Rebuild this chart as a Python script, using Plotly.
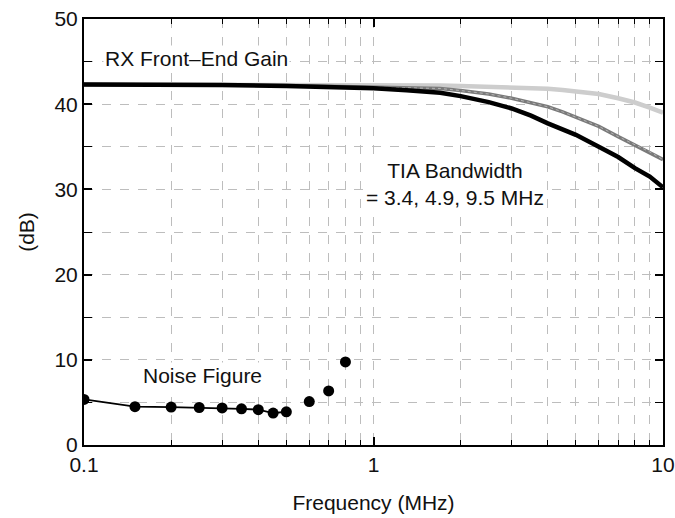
import plotly.graph_objects as go

# Gain curves
freq_gain = [0.1, 0.2, 0.3, 0.5, 0.7, 1.0, 1.3, 1.7, 2.0, 2.5, 3.0, 3.5, 4.0, 4.5, 5.0, 6.0, 7.0, 8.0, 9.0, 10.0]
gain_bw34 = [42.3, 42.3, 42.25, 42.15, 42.05, 41.88, 41.65, 41.35, 40.95, 40.25, 39.5, 38.65, 37.75, 37.05, 36.4, 35.0, 33.8, 32.5, 31.5, 30.25]
gain_bw49 = [42.3, 42.3, 42.25, 42.2, 42.12, 42.05, 41.95, 41.85, 41.6, 41.2, 40.7, 40.2, 39.7, 39.1, 38.5, 37.4, 36.2, 35.2, 34.4, 33.5]
gain_bw95 = [42.3, 42.3, 42.3, 42.3, 42.28, 42.25, 42.22, 42.2, 42.15, 42.08, 42.0, 41.9, 41.8, 41.68, 41.55, 41.2, 40.7, 40.2, 39.6, 39.0]

# Noise figure
nf_freq_line = [0.1, 0.15, 0.2, 0.25, 0.3, 0.35, 0.4, 0.45, 0.5]
nf_line = [5.35, 4.5, 4.45, 4.4, 4.35, 4.25, 4.15, 3.75, 3.9]
nf_freq_pts = [0.6, 0.7, 0.8]
nf_pts = [5.1, 6.35, 9.75]

font = "Liberation Sans, Arial, sans-serif"

fig = go.Figure()
fig.add_trace(go.Scatter(x=freq_gain, y=gain_bw95, mode="lines",
                         line=dict(color="#cdcdcd", width=4.5)))
fig.add_trace(go.Scatter(x=freq_gain, y=gain_bw49, mode="lines",
                         line=dict(color="#7a7a7a", width=3.5)))
fig.add_trace(go.Scatter(x=freq_gain, y=gain_bw49, mode="lines",
                         line=dict(color="#b5b5b5", width=1, dash="dot")))
fig.add_trace(go.Scatter(x=freq_gain, y=gain_bw34, mode="lines",
                         line=dict(color="#000000", width=4.5)))
fig.add_trace(go.Scatter(x=nf_freq_line, y=nf_line, mode="lines+markers",
                         line=dict(color="#000000", width=1.8),
                         marker=dict(color="#000000", size=11)))
fig.add_trace(go.Scatter(x=nf_freq_pts, y=nf_pts, mode="markers",
                         marker=dict(color="#000000", size=11)))

axis_common = dict(
    showline=True, linecolor="#000000", linewidth=2, mirror="allticks",
    ticks="inside", tickcolor="#000000", tickwidth=1.5, ticklen=8,
    showgrid=True, gridcolor="#bdbdbd", griddash="dash", gridwidth=1,
    zeroline=False, automargin=False,
    tickfont=dict(family=font, size=21, color="#111111"),
)

fig.update_xaxes(type="log", range=[-1, 1], tickvals=[0.1, 1, 10], ticktext=["0.1", "1", "10"],
                 minor=dict(ticks="inside", ticklen=5, tickcolor="#000000", tickwidth=1.2,
                            showgrid=True, gridcolor="#bdbdbd", griddash="dash", gridwidth=1,
                            tickvals=[0.2, 0.3, 0.4, 0.5, 0.6, 0.7, 0.8, 0.9, 2, 3, 4, 5, 6, 7, 8, 9]),
                 title=dict(text="Frequency (MHz)", font=dict(family=font, size=21, color="#111111"), standoff=20),
                 **axis_common)
fig.update_yaxes(range=[0, 50], tickvals=[0, 10, 20, 30, 40, 50],
                 minor=dict(ticks="inside", ticklen=8, tickcolor="#000000", tickwidth=1.2,
                            showgrid=True, gridcolor="#bdbdbd", griddash="dash", gridwidth=1,
                            tickvals=[5, 15, 25, 35, 45]),
                 title=dict(text="(dB)", font=dict(family=font, size=21, color="#111111"), standoff=14),
                 **axis_common)

ann_font = dict(family=font, size=21, color="#111111")
fig.add_annotation(x=-0.934, y=45.4, xref="x", yref="y", text="RX Front–End Gain", showarrow=False,
                   xanchor="left", yanchor="middle", bgcolor="#ffffff", font=ann_font)
fig.add_annotation(x=0.283, y=30.6, xref="x", yref="y",
                   text="TIA Bandwidth<br>= 3.4, 4.9, 9.5 MHz", showarrow=False,
                   xanchor="center", yanchor="middle", bgcolor="#ffffff", font=ann_font, align="center")
fig.add_annotation(x=-0.803, y=8.2, xref="x", yref="y", text="Noise Figure", showarrow=False,
                   xanchor="left", yanchor="middle", bgcolor="#ffffff", font=ann_font)

fig.update_layout(
    width=675, height=518,
    margin=dict(l=84, r=12, t=19, b=73),
    paper_bgcolor="#ffffff", plot_bgcolor="#ffffff",
    showlegend=False,
)

fig.write_html("out.html")
